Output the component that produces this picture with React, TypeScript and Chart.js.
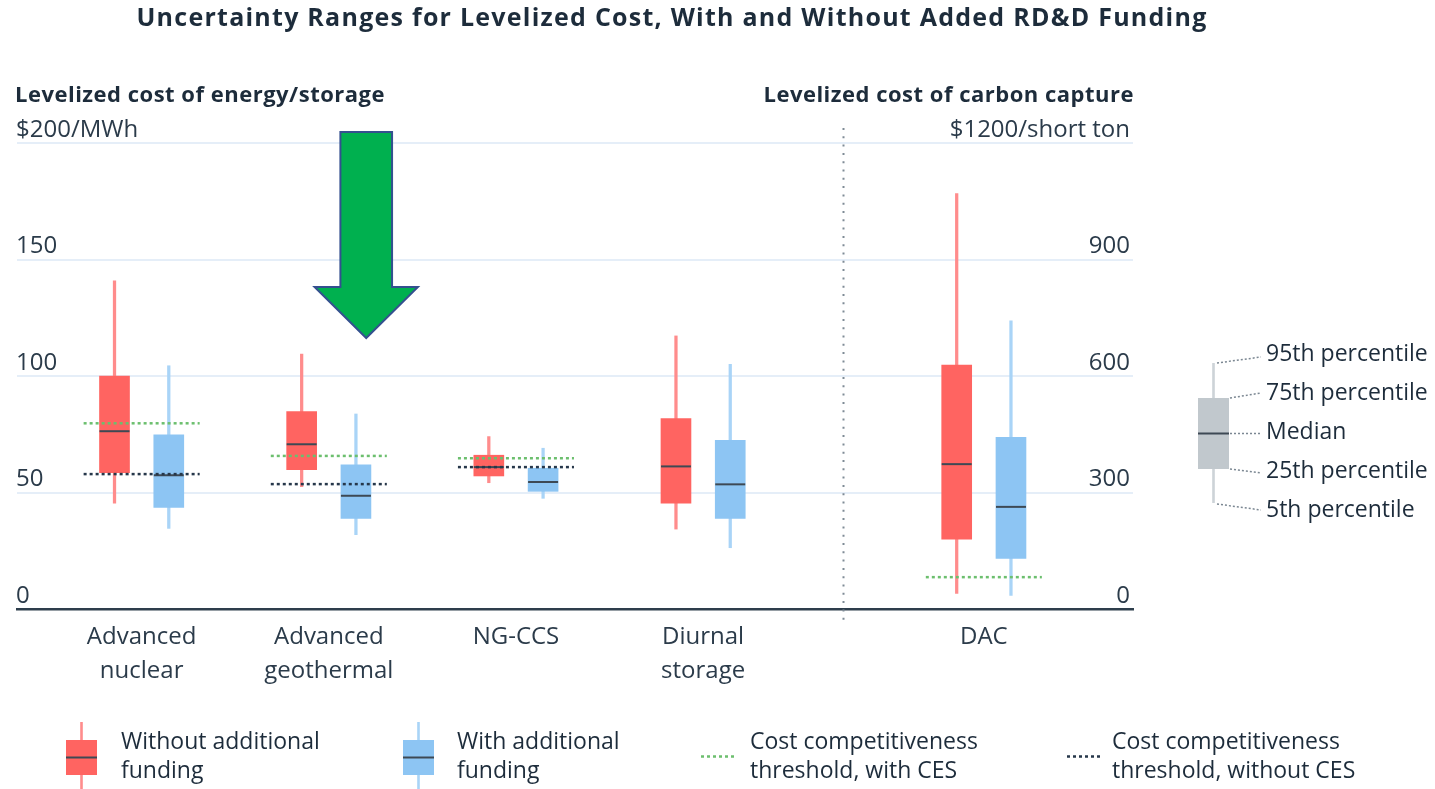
import React, { useEffect, useRef } from "react";
import { Chart, registerables } from "chart.js";

Chart.register(...registerables);

// ---------- data ----------
const CATEGORIES: string[][] = [
  ["Advanced", "nuclear"],
  ["Advanced", "geothermal"],
  ["NG-CCS"],
  ["Diurnal", "storage"],
  ["DAC"],
];
const CATEGORY_POS = [1, 2, 3, 4, 5.5];
const AXIS_OF = ["y", "y", "y", "y", "y2"]; // DAC uses the carbon-capture axis

const WITHOUT_P5 = [45.4, 52.5, 54.2, 34.3, 40];
const WITHOUT_Q1 = [58.5, 59.8, 57.1, 45.4, 180];
const WITHOUT_MED = [76.3, 70.7, 60.9, 61.2, 373];
const WITHOUT_Q3 = [100, 84.7, 66.0, 81.7, 628];
const WITHOUT_P95 = [140.8, 109.4, 74.0, 117.2, 1070];

const WITH_P5 = [34.6, 31.9, 47.5, 26.3, 35];
const WITH_Q1 = [43.6, 38.9, 50.5, 38.9, 130];
const WITH_MED = [57.4, 48.6, 54.5, 53.5, 263];
const WITH_Q3 = [74.7, 61.9, 60.4, 72.4, 442];
const WITH_P95 = [104.4, 83.7, 69.0, 105.0, 742];

const THRESHOLD_WITH_CES: (number | null)[] = [79.7, 65.7, 64.7, null, 82];
const THRESHOLD_WITHOUT_CES: (number | null)[] = [57.9, 53.6, 60.9, null, null];

const LEFT_TICK_LABELS = ["0", "50", "100", "150", "$200/MWh"];
const RIGHT_TICK_LABELS = ["0", "300", "600", "900", "$1200/short ton"];

const TITLE = "Uncertainty Ranges for Levelized Cost, With and Without Added RD&D Funding";
const LEFT_HEADER = "Levelized cost of energy/storage";
const RIGHT_HEADER = "Levelized cost of carbon capture";
const KEY_LABELS = ["95th percentile", "75th percentile", "Median", "25th percentile", "5th percentile"];
const LEGEND_LABELS = [
  ["Without additional", "funding"],
  ["With additional", "funding"],
  ["Cost competitiveness", "threshold, with CES"],
  ["Cost competitiveness", "threshold, without CES"],
];

// ---------- style ----------
const FONT = "'Open Sans'";
const TEXT = "#1d2c3b";
const RED = "#ff6461";
const RED_W = "#ff8c8c";
const BLUE = "#8dc5f3";
const BLUE_W = "#a9d4f7";
const MEDIAN = "#3d4954";
const GREEN_DOT = "#6cbf6e";
const DARK_DOT = "#26374a";
const GRID = "#e5eef8";
const OFFSET = 0.145;
const HALF_THRESH = 0.31;
const DIVIDER_X = 4.75;
const X_MIN = 0.334;
const X_MAX = 6.297;
const ARROW = { x: 2.2, shaftHalf: 0.138, headHalf: 0.276, top: 204.7, neck: 138.2, tip: 116.3 };

function buildDatasets() {
  const ds: any[] = [];
  const series = [
    { off: -OFFSET, box: RED, whisk: RED_W, p5: WITHOUT_P5, q1: WITHOUT_Q1, med: WITHOUT_MED, q3: WITHOUT_Q3, p95: WITHOUT_P95 },
    { off: OFFSET, box: BLUE, whisk: BLUE_W, p5: WITH_P5, q1: WITH_Q1, med: WITH_MED, q3: WITH_Q3, p95: WITH_P95 },
  ];
  for (const axis of ["y", "y2"]) {
    const idx = CATEGORY_POS.map((_, i) => i).filter((i) => AXIS_OF[i] === axis);
    for (const s of series) {
      ds.push({
        type: "bar",
        yAxisID: axis,
        data: idx.map((i) => ({ x: CATEGORY_POS[i] + s.off, y: [s.p5[i], s.p95[i]] })),
        backgroundColor: s.whisk,
        barThickness: 2.6,
        grouped: false,
        borderWidth: 0,
        order: 5,
      });
      ds.push({
        type: "bar",
        yAxisID: axis,
        data: idx.map((i) => ({ x: CATEGORY_POS[i] + s.off, y: [s.q1[i], s.q3[i]] })),
        backgroundColor: s.box,
        barThickness: 30,
        grouped: false,
        borderWidth: 0,
        order: 4,
      });
      ds.push({
        type: "scatter",
        yAxisID: axis,
        data: idx.map((i) => ({ x: CATEGORY_POS[i] + s.off, y: s.med[i] })),
        pointStyle: "line",
        pointRadius: 15,
        pointBorderWidth: 2,
        pointBorderColor: MEDIAN,
        borderColor: MEDIAN,
        order: 3,
      });
    }
    const thresholds = [
      { vals: THRESHOLD_WITHOUT_CES, color: DARK_DOT },
      { vals: THRESHOLD_WITH_CES, color: GREEN_DOT },
    ];
    for (const t of thresholds) {
      for (const i of idx) {
        const v = t.vals[i];
        if (v === null) continue;
        ds.push({
          type: "line",
          yAxisID: axis,
          data: [
            { x: CATEGORY_POS[i] - HALF_THRESH, y: v },
            { x: CATEGORY_POS[i] + HALF_THRESH, y: v },
          ],
          borderColor: t.color,
          borderWidth: 2.5,
          borderDash: [3, 3],
          pointRadius: 0,
          fill: false,
          order: 1,
        });
      }
    }
  }
  return ds;
}

function dotted(ctx: CanvasRenderingContext2D, pts: number[][], color: string, w = 1.5, dash = [2, 2]) {
  ctx.save();
  ctx.strokeStyle = color;
  ctx.lineWidth = w;
  ctx.setLineDash(dash);
  ctx.beginPath();
  ctx.moveTo(pts[0][0], pts[0][1]);
  for (let k = 1; k < pts.length; k++) ctx.lineTo(pts[k][0], pts[k][1]);
  ctx.stroke();
  ctx.restore();
}

function glyph(ctx: CanvasRenderingContext2D, cx: number, wTop: number, wBot: number, bTop: number, bBot: number, med: number, box: string, whisk: string, w: number) {
  ctx.fillStyle = whisk;
  ctx.fillRect(cx - 1.3, wTop, 2.6, wBot - wTop);
  ctx.fillStyle = box;
  ctx.fillRect(cx - w / 2, bTop, w, bBot - bTop);
  ctx.strokeStyle = MEDIAN;
  ctx.lineWidth = 2;
  ctx.beginPath();
  ctx.moveTo(cx - w / 2, med);
  ctx.lineTo(cx + w / 2, med);
  ctx.stroke();
}

const decor = {
  id: "decor",
  afterDraw(chart: any) {
    const { ctx, chartArea } = chart;
    const x = chart.scales.x;
    const y = chart.scales.y;
    ctx.save();
    ctx.fillStyle = TEXT;
    ctx.textBaseline = "middle";
    // title
    ctx.font = `bold 25px ${FONT}`;
    (ctx as any).letterSpacing = "1.25px";
    ctx.textAlign = "left";
    const tw = ctx.measureText(TITLE).width;
    ctx.fillText(TITLE, 672 - tw / 2, 19);
    // headers
    ctx.font = `bold 22px ${FONT}`;
    (ctx as any).letterSpacing = "0.5px";
    ctx.textAlign = "left";
    ctx.fillText(LEFT_HEADER, chartArea.left - 2, 96);
    const hw = ctx.measureText(RIGHT_HEADER).width;
    ctx.fillText(RIGHT_HEADER, chartArea.right - hw + 1, 96);
    (ctx as any).letterSpacing = "0px";

    // divider
    const dx = Math.round(x.getPixelForValue(DIVIDER_X)) + 0.5;
    ctx.save();
    ctx.strokeStyle = "#7f8b96";
    ctx.lineWidth = 2;
    ctx.setLineDash([2, 6.3]);
    ctx.beginPath();
    ctx.moveTo(dx, chartArea.top - 15);
    ctx.lineTo(dx, chartArea.bottom + 12);
    ctx.stroke();
    ctx.restore();

    // arrow annotation
    const cx = x.getPixelForValue(ARROW.x);
    const sh = x.getPixelForValue(ARROW.x + ARROW.shaftHalf) - cx;
    const hh = x.getPixelForValue(ARROW.x + ARROW.headHalf) - cx;
    const yt = y.getPixelForValue(ARROW.top);
    const yn = y.getPixelForValue(ARROW.neck);
    const yp = y.getPixelForValue(ARROW.tip);
    ctx.beginPath();
    ctx.moveTo(cx - sh, yt);
    ctx.lineTo(cx + sh, yt);
    ctx.lineTo(cx + sh, yn);
    ctx.lineTo(cx + hh, yn);
    ctx.lineTo(cx, yp);
    ctx.lineTo(cx - hh, yn);
    ctx.lineTo(cx - sh, yn);
    ctx.closePath();
    ctx.fillStyle = "#00b04f";
    ctx.fill();
    ctx.strokeStyle = "#34508f";
    ctx.lineWidth = 2;
    ctx.stroke();

    // percentile key
    glyph(ctx, 1213.5, 363, 503, 398, 469, 433.5, "#c1c8cd", "#cdd3d7", 31);
    const lead = "#7b8792";
    dotted(ctx, [[1217, 363], [1261, 357]], lead);
    dotted(ctx, [[1230, 398], [1261, 393]], lead);
    dotted(ctx, [[1230, 433.5], [1261, 433.5]], lead);
    dotted(ctx, [[1230, 469], [1261, 473]], lead);
    dotted(ctx, [[1217, 504], [1261, 510]], lead);
    ctx.fillStyle = TEXT;
    ctx.font = `23px ${FONT}`;
    ctx.textAlign = "left";
    const keyY = [354, 393, 432, 471, 510];
    KEY_LABELS.forEach((t, i) => ctx.fillText(t, 1266, keyY[i]));

    // bottom legend
    glyph(ctx, 81.5, 722, 789, 740, 775, 757.5, RED, RED_W, 31);
    glyph(ctx, 418.5, 722, 789, 740, 775, 757.5, BLUE, BLUE_W, 31);
    dotted(ctx, [[701, 756.5], [734, 756.5]], GREEN_DOT, 2.5, [3, 3]);
    dotted(ctx, [[1067, 756.5], [1100, 756.5]], DARK_DOT, 2.5, [3, 3]);
    const lx = [121, 457, 750, 1112];
    ctx.fillStyle = TEXT;
    ctx.font = `23px ${FONT}`;
    LEGEND_LABELS.forEach((lines, i) => {
      ctx.fillText(lines[0], lx[i], 742);
      ctx.fillText(lines[1], lx[i], 771);
    });
    ctx.restore();
  },
};

export default function App() {
  const ref = useRef<HTMLCanvasElement>(null);
  useEffect(() => {
    let chart: Chart | null = null;
    let cancelled = false;
    const make = () => {
      if (cancelled || !ref.current) return;
      chart = new Chart(ref.current, {
        type: "bar",
        data: { datasets: buildDatasets() },
        plugins: [decor],
        options: {
          responsive: false,
          animation: false,
          events: [],
          layout: { padding: { left: 14, right: 302, top: 143, bottom: 90 } },
          plugins: { legend: { display: false }, tooltip: { enabled: false } },
          scales: {
            x: {
              type: "linear",
              min: X_MIN,
              max: X_MAX,
              offset: false,
              grid: { display: false, drawTicks: false },
              border: { display: true, color: "#2e3e4c", width: 2.5 },
              afterBuildTicks: (scale: any) => {
                scale.ticks = CATEGORY_POS.map((v) => ({ value: v }));
              },
              ticks: {
                autoSkip: false,
                maxRotation: 0,
                padding: 11,
                color: "#2b3b4a",
                font: { family: FONT, size: 24, lineHeight: 34 / 24 },
                callback: (_v: any, i: number) => CATEGORIES[i],
              },
            },
            y: {
              type: "linear",
              position: "left",
              min: 0,
              max: 200,
              border: { display: false },
              grid: {
                drawTicks: false,
                lineWidth: 2,
                color: (c: any) => (c.tick && c.tick.value === 0 ? "rgba(0,0,0,0)" : GRID),
              },
              afterFit: (scale: any) => {
                scale.width = 0;
              },
              ticks: {
                stepSize: 50,
                mirror: true,
                padding: -1,
                labelOffset: -13,
                color: "#2b3b4a",
                font: { family: FONT, size: 24 },
                callback: (_v: any, i: number) => LEFT_TICK_LABELS[i],
              },
            },
            y2: {
              type: "linear",
              position: "right",
              min: 0,
              max: 1200,
              border: { display: false },
              grid: { display: false, drawTicks: false },
              afterFit: (scale: any) => {
                scale.width = 0;
              },
              ticks: {
                stepSize: 300,
                mirror: true,
                padding: -3,
                labelOffset: -13,
                color: "#2b3b4a",
                font: { family: FONT, size: 24 },
                callback: (_v: any, i: number) => RIGHT_TICK_LABELS[i],
              },
            },
          },
        } as any,
      });
    };
    const fontsReady = (document as any).fonts
      ? Promise.all([
          (document as any).fonts.load(`23px ${FONT}`),
          (document as any).fonts.load(`bold 23px ${FONT}`),
        ]).catch(() => null)
      : Promise.resolve(null);
    fontsReady.then(make);
    return () => {
      cancelled = true;
      if (chart) chart.destroy();
    };
  }, []);
  return (
    <div style={{ position: "fixed", left: 0, top: 0, width: 1435, height: 789, background: "#fff" }}>
      <canvas ref={ref} width={1435} height={789} style={{ display: "block" }} />
    </div>
  );
}
